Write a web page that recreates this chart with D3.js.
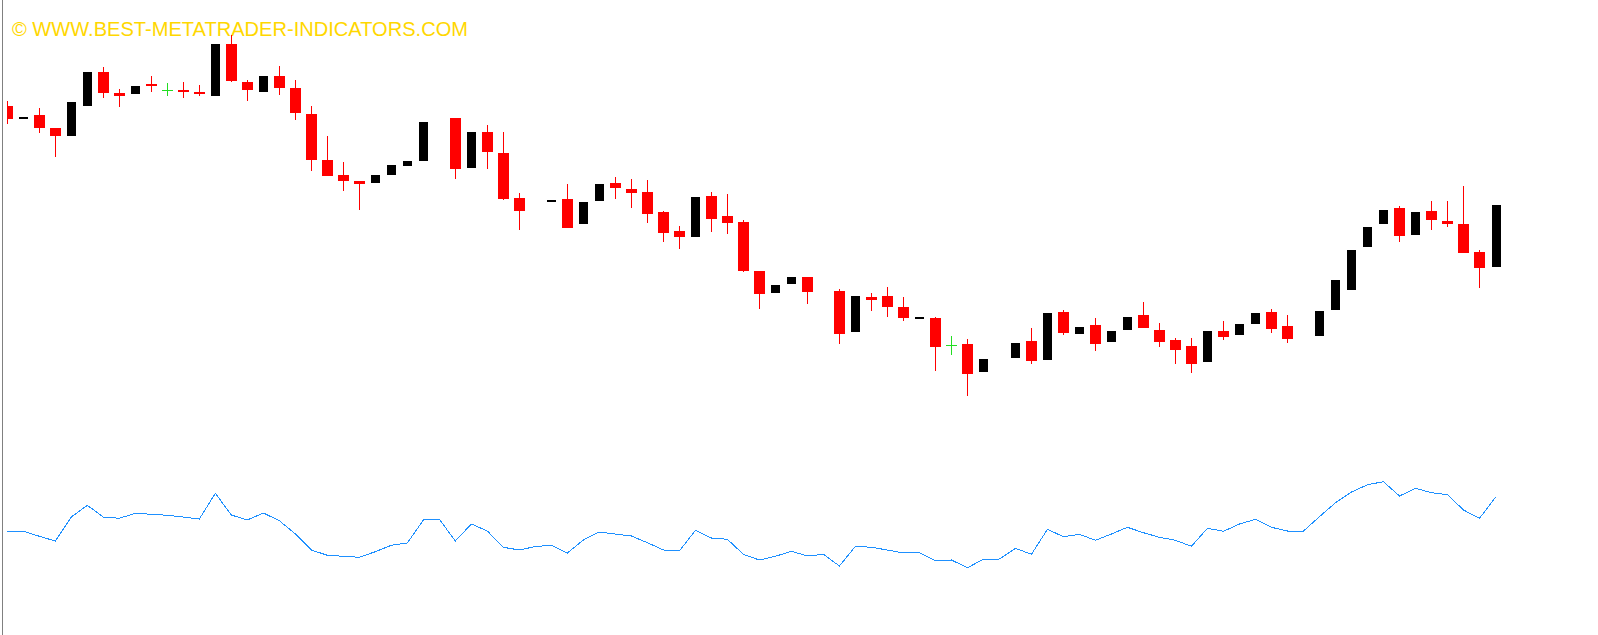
<!DOCTYPE html>
<html>
<head>
<meta charset="utf-8">
<script src="https://cdn.jsdelivr.net/npm/d3@7"></script>
<style>
  html, body { margin: 0; padding: 0; background: #fff; overflow: hidden; }
  svg { display: block; }
</style>
</head>
<body>
<svg id="chart" width="1598" height="635"></svg>
<script>
// bar prices, one per slot; null = no bar drawn in that slot
var opens = [894, 881, 885, 872, 864, 894, 928, 907, 906, 916,
  910, 910, 908, 904, 956, 918, 908, 924, 912, 886,
  840, 825, 819, 817, 825, 834, 839, null, 882, 832,
  868, 847, 802, null, 798, 801, 776, 799, 817, 811,
  808, 788, 769, 763, 804, 784, 778, 729, 707, 716,
  723, null, 709, 668, 703, 704, 693, 681, 682, 655,
  656, 628, null, 642, 659, 640, 688, 666, 675, 658,
  670, 685, 670, 660, 654, 638, 669, 665, 676, 688,
  674, null, 664, 690, 710, 753, 776, 792, 765, 789,
  779, 776, 748, 733];

var highs = [899, 883, 892, 872, 898, 928, 933, 911, 914, 924,
  917, 918, 915, 956, 965, 920, 924, 934, 920, 894,
  864, 838, 819, 825, 835, 839, 878, null, 882, 868,
  875, 868, 807, null, 800, 816, 798, 816, 823, 821,
  820, 789, 774, 803, 808, 806, 780, 729, 715, 723,
  723, null, 711, 704, 707, 713, 703, 683, 683, 664,
  661, 641, null, 657, 672, 687, 690, 673, 682, 669,
  683, 698, 677, 662, 662, 669, 679, 676, 687, 691,
  685, null, 689, 720, 750, 773, 790, 794, 788, 799,
  799, 814, 750, 795];

var lows = [876, 881, 867, 843, 864, 894, 902, 893, 906, 908,
  904, 902, 904, 904, 918, 899, 908, 905, 880, 829,
  824, 809, 790, 817, 825, 834, 839, null, 821, 832,
  831, 800, 770, null, 798, 772, 776, 799, 801, 792,
  777, 758, 751, 763, 768, 766, 728, 691, 707, 716,
  696, null, 656, 668, 689, 683, 679, 681, 629, 645,
  604, 628, null, 642, 636, 640, 665, 666, 649, 658,
  670, 672, 653, 636, 627, 638, 660, 665, 676, 667,
  657, null, 664, 690, 710, 753, 776, 758, 765, 770,
  773, 747, 712, 733];

var closes = [881, 883, 872, 864, 898, 928, 907, 904, 914, 914,
  910, 908, 906, 956, 919, 910, 924, 912, 887, 840,
  824, 819, 816, 825, 835, 839, 878, null, 831, 868,
  848, 801, 789, null, 800, 772, 798, 816, 812, 807,
  786, 767, 763, 803, 781, 777, 729, 706, 715, 723,
  708, null, 666, 704, 700, 693, 682, 683, 653, 655,
  626, 641, null, 657, 639, 687, 667, 673, 656, 669,
  683, 672, 658, 650, 636, 669, 663, 676, 687, 671,
  661, null, 689, 720, 750, 773, 790, 764, 788, 780,
  776, 747, 732, 795];

// blue indicator line underneath, one value per bar slot
var oscValues = [68, 69, 63.7, 59, 83, 94.7, 83, 81.7, 86.7, 85.7,
  84.7, 83, 81, 106.7, 85, 80, 87, 79.3, 66, 50,
  44.7, 43.7, 42.7, 48.3, 54.7, 57, 80, 80.7, 59, 76,
  69, 52.7, 50, 53.5, 54.7, 47, 60, 68, 66, 64,
  57.3, 50, 49, 69.7, 62, 60.7, 45.7, 40, 43.7, 48.7,
  44, 45.7, 34, 53.7, 52.7, 50, 47, 47.3, 39.3, 40,
  32.3, 40.7, 41, 51.7, 45.7, 70.7, 63.3, 65.7, 59.7, 66,
  72.7, 67.3, 62.7, 59.7, 53.7, 71.7, 68.7, 76, 80.7, 72.7,
  69, 69, 83.3, 97.3, 108, 115.3, 118.3, 104, 111.7, 107.3,
  105.3, 90, 81.7, 102.7];

var watermark = "\u00A9 WWW.BEST-METATRADER-INDICATORS.COM";

var W = 1598, H = 635;
var svg = d3.select("#chart");

var x = d3.scaleLinear().domain([0, opens.length - 1]).range([7.3, 1495.5]);
var y = d3.scaleLinear().domain([1000, 365]).range([0, H]);
var yo = d3.scaleLinear().domain([600, -35]).range([0, H]);

svg.append("rect").attr("width", W).attr("height", H).attr("fill", "#fff");

// watermark
svg.append("text")
  .attr("x", 12)
  .attr("y", 35.5)
  .attr("font-family", "'Liberation Sans', Arial, sans-serif")
  .attr("font-size", "19.5px")
  .attr("fill", "#ffd700")
  .attr("textLength", 456)
  .attr("lengthAdjust", "spacingAndGlyphs")
  .text(watermark);

// first bar is cut off on the left
svg.append("clipPath").attr("id", "clip")
  .append("rect").attr("x", 7).attr("y", 0).attr("width", W - 7).attr("height", H);

var bars = d3.range(opens.length)
  .filter(function(i) { return opens[i] !== null; })
  .map(function(i) {
    return { i: i, o: opens[i], h: highs[i], l: lows[i], c: closes[i] };
  });

function barColor(d) {
  if (d.o === d.c) return "#22dd22";
  return d.c > d.o ? "#000" : "#ff0000";
}

var g = svg.append("g").attr("clip-path", "url(#clip)").attr("shape-rendering", "crispEdges");

// wicks
g.selectAll("rect.wick")
  .data(bars.filter(function(d) { return d.h > Math.max(d.o, d.c) || d.l < Math.min(d.o, d.c); }))
  .enter().append("rect")
  .attr("class", "wick")
  .attr("x", function(d) { return Math.round(x(d.i)); })
  .attr("y", function(d) { return y(d.h); })
  .attr("width", 1)
  .attr("height", function(d) { return y(d.l) - y(d.h); })
  .attr("fill", barColor);

// bodies (doji = flat line)
g.selectAll("rect.body")
  .data(bars)
  .enter().append("rect")
  .attr("class", "body")
  .attr("x", function(d) { return Math.round(x(d.i)) - (d.c > d.o ? 4 : 5); })
  .attr("y", function(d) { return y(Math.max(d.o, d.c)); })
  .attr("width", function(d) { return d.c > d.o ? 9 : 11; })
  .attr("height", function(d) { return Math.max(1, Math.abs(y(d.o) - y(d.c))); })
  .attr("fill", barColor);

// indicator line, same bar slots as the candles
var line = d3.line()
  .x(function(d, i) { return x(i); })
  .y(function(d) { return yo(d); });

svg.append("path")
  .datum(oscValues)
  .attr("d", line)
  .attr("fill", "none")
  .attr("stroke", "#1e90ff")
  .attr("stroke-width", 1)
  .attr("shape-rendering", "crispEdges");

// left window edge
svg.append("rect")
  .attr("x", 2).attr("y", 0).attr("width", 1).attr("height", H)
  .attr("fill", "#808080");
</script>
</body>
</html>
